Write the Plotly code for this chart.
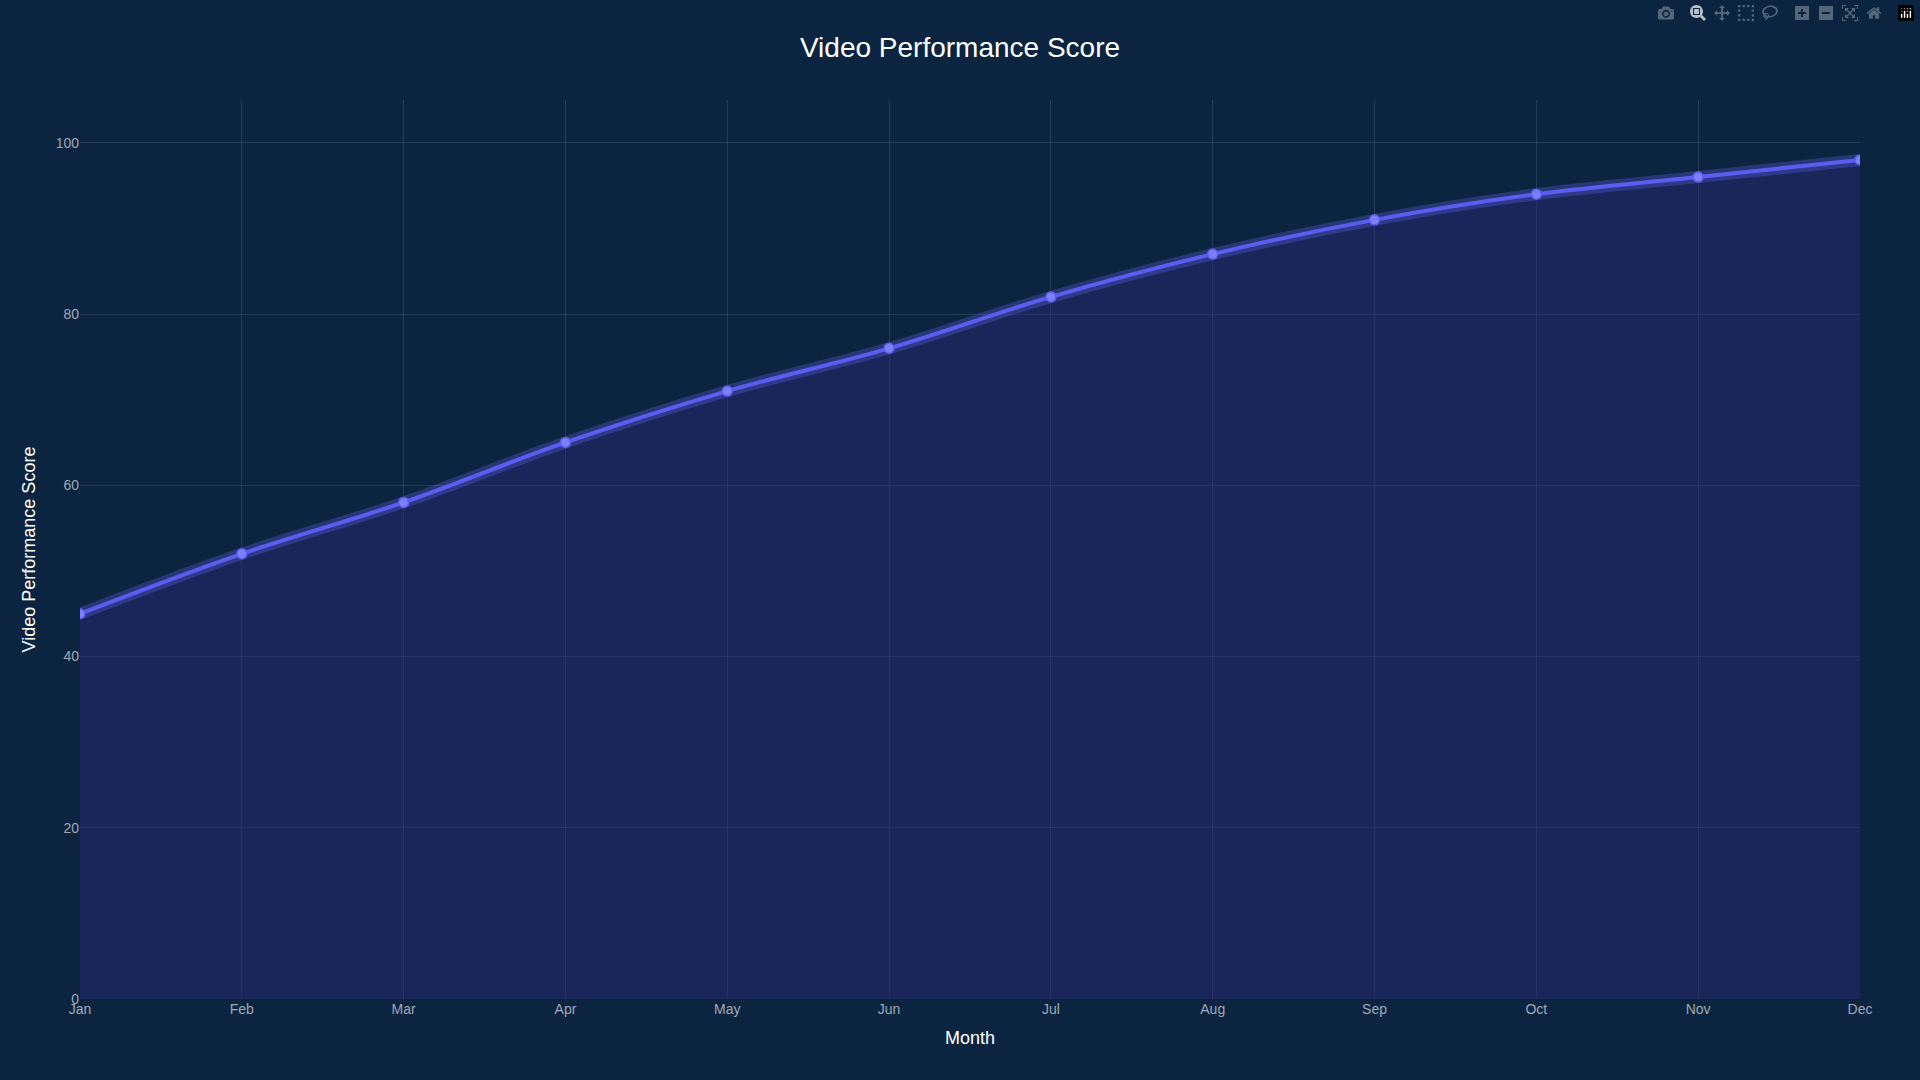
import plotly.graph_objects as go

months = ["Jan", "Feb", "Mar", "Apr", "May", "Jun", "Jul", "Aug", "Sep", "Oct", "Nov", "Dec"]
scores = [45, 52, 58, 65, 71, 76, 82, 87, 91, 94, 96, 98]

fig = go.Figure()

# soft glow under the main line
fig.add_trace(go.Scatter(
    x=months, y=scores, mode="lines", line=dict(color="rgba(99,102,241,0.3)", width=12, shape="spline"),
    fill="tozeroy", fillcolor="rgba(40,40,120,0.45)", hoverinfo="skip", showlegend=False,
))
fig.add_trace(go.Scatter(
    x=months, y=scores, mode="lines+markers", name="Score",
    line=dict(color="#5b5cf0", width=4, shape="spline"),
    marker=dict(size=10, color="#7c7ff5", line=dict(color="#5b5cf0", width=1.5)),
    showlegend=False,
))

fig.update_layout(
    autosize=True,
    title=dict(text="Video Performance Score", x=0.5, y=0.965, font=dict(size=28, color="#ffffff")),
    paper_bgcolor="#0b2540", plot_bgcolor="#0b2540",
    font=dict(family="Liberation Sans, Arial", color="#ffffff"),
    margin=dict(l=80, r=60, t=100, b=81),
    xaxis=dict(title=dict(text="Month", font=dict(size=18)), range=[0, 11],
               gridcolor="rgba(255,255,255,0.1)", tickfont=dict(size=14, color="#a0a8b8"),
               showline=False, zeroline=False),
    yaxis=dict(title=dict(text="Video Performance Score", font=dict(size=18)), range=[0, 105],
               gridcolor="rgba(255,255,255,0.1)", tickfont=dict(size=14, color="#a0a8b8"),
               dtick=20, zeroline=False),
)

fig.write_html("out.html", default_width="100vw", default_height="100vh",
               post_script="document.body.style.margin='0';document.body.style.overflow='hidden';"
                           "Plotly.Plots.resize(document.getElementById('{plot_id}'));")
